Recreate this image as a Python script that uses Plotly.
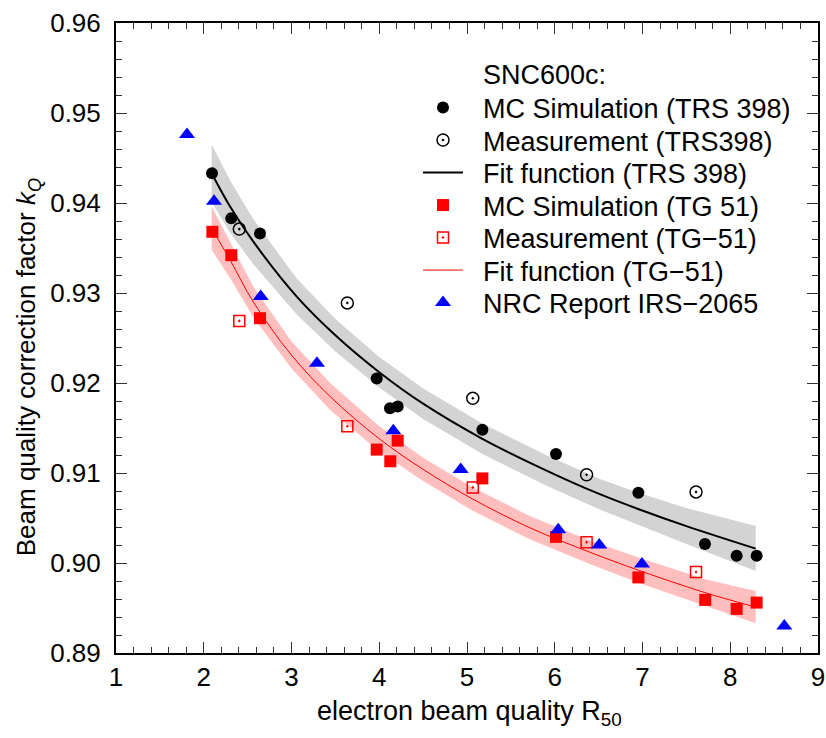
import plotly.graph_objects as go

# ---------------- data ----------------
mc_trs_x = [2.094, 2.314, 2.641, 3.971, 4.122, 4.21, 5.175, 6.014, 6.953, 7.712, 8.073, 8.301]
mc_trs_y = [0.9433, 0.9383, 0.9366, 0.9205, 0.9172, 0.9174, 0.9148, 0.9121, 0.9078, 0.9021, 0.9008, 0.9008]

meas_trs_x = [2.405, 3.636, 5.066, 6.363, 7.610]
meas_trs_y = [0.9371, 0.9289, 0.9183, 0.9098, 0.9079]

mc_tg_x = [2.098, 2.314, 2.641, 3.971, 4.126, 4.21, 5.175, 6.014, 6.953, 7.715, 8.073, 8.301]
mc_tg_y = [0.9368, 0.9342, 0.9272, 0.9126, 0.9113, 0.9136, 0.9094, 0.9029, 0.8984, 0.8959, 0.8949, 0.8956]

meas_tg_x = [2.405, 3.636, 5.066, 6.363, 7.610]
meas_tg_y = [0.9269, 0.9152, 0.9084, 0.9023, 0.8990]

nrc_x = [1.809, 2.117, 2.649, 3.29, 4.16, 4.928, 6.04, 6.507, 6.994, 8.616]
nrc_y = [0.9476, 0.9402, 0.9296, 0.9222, 0.9147, 0.9104, 0.9037, 0.9020, 0.8999, 0.8930]

fit_trs_x = [2.09, 2.3, 2.565, 3.06, 3.5, 4.0, 4.5, 5.175, 5.9, 6.5, 6.95, 7.5, 8.29]
fit_trs_y = [0.9433, 0.9396, 0.9357, 0.9296, 0.9253, 0.9212, 0.9177, 0.9138, 0.9103, 0.9077, 0.9060, 0.9041, 0.9016]
band_trs_hi = [0.9465, 0.9425, 0.9382, 0.9316, 0.9271, 0.9229, 0.9194, 0.9155, 0.9120, 0.9094, 0.9078, 0.9061, 0.9041]
band_trs_lo = [0.9401, 0.9367, 0.9332, 0.9276, 0.9235, 0.9195, 0.9160, 0.9121, 0.9086, 0.9060, 0.9042, 0.9021, 0.8991]

fit_tg_x = [2.09, 2.31, 2.565, 3.0, 3.44, 4.0, 4.5, 5.066, 5.72, 6.4, 6.953, 7.715, 8.29]
fit_tg_y = [0.9372, 0.9335, 0.9290, 0.9231, 0.9185, 0.9138, 0.9104, 0.9071, 0.9039, 0.9012, 0.8992, 0.8967, 0.8951]
band_tg_hi = [0.9396, 0.9355, 0.9307, 0.9246, 0.9200, 0.9152, 0.9117, 0.9084, 0.9052, 0.9025, 0.9006, 0.8982, 0.8969]
band_tg_lo = [0.9348, 0.9315, 0.9273, 0.9216, 0.9170, 0.9124, 0.9091, 0.9058, 0.9026, 0.8999, 0.8978, 0.8952, 0.8933]

x_ticks = [1, 2, 3, 4, 5, 6, 7, 8, 9]
y_ticks = [0.89, 0.90, 0.91, 0.92, 0.93, 0.94, 0.95, 0.96]

legend_names = ["SNC600c:", "MC Simulation (TRS 398)", "Measurement (TRS398)",
                "Fit function (TRS 398)", "MC Simulation (TG 51)", "Measurement (TG\u221251)",
                "Fit function (TG\u221251)", "NRC Report IRS\u22122065"]

FONT = "Liberation Sans, Arial, Helvetica, sans-serif"
W, H = 826, 738
ML, MR, MT, MB = 116, 8, 23, 85
PLOT_H = H - MT - MB
PAD = "\u00a0\u00a0"

fig = go.Figure()

# confidence bands
fig.add_trace(go.Scatter(
    x=fit_trs_x + fit_trs_x[::-1], y=band_trs_hi + band_trs_lo[::-1],
    fill="toself", fillcolor="#d3d3d3", line=dict(width=0), mode="lines",
    showlegend=False, hoverinfo="skip"))
fig.add_trace(go.Scatter(
    x=fit_tg_x + fit_tg_x[::-1], y=band_tg_hi + band_tg_lo[::-1],
    fill="toself", fillcolor="#ffbfbf", line=dict(width=0), mode="lines",
    showlegend=False, hoverinfo="skip"))

# legend heading as a blank entry
fig.add_trace(go.Scatter(x=[None], y=[None], mode="markers",
                         marker=dict(color="rgba(0,0,0,0)", size=1),
                         name=PAD + legend_names[0], legend="legend"))

# fit lines
fig.add_trace(go.Scatter(x=fit_trs_x, y=fit_trs_y, mode="lines",
                         line=dict(color="black", width=2, shape="spline"),
                         name=PAD + legend_names[3], legend="legend4"))
fig.add_trace(go.Scatter(x=fit_tg_x, y=fit_tg_y, mode="lines",
                         line=dict(color="red", width=1, shape="spline"),
                         name=PAD + legend_names[6], legend="legend7"))

# markers
fig.add_trace(go.Scatter(x=mc_trs_x, y=mc_trs_y, mode="markers",
                         marker=dict(symbol="circle", color="black", size=12),
                         name=PAD + legend_names[1], legend="legend2"))
fig.add_trace(go.Scatter(x=meas_trs_x, y=meas_trs_y, mode="markers",
                         marker=dict(symbol="circle-open-dot", color="black", size=12,
                                     line=dict(width=1.5, color="black")),
                         name=PAD + legend_names[2], legend="legend3"))
fig.add_trace(go.Scatter(x=mc_tg_x, y=mc_tg_y, mode="markers",
                         marker=dict(symbol="square", color="red", size=12),
                         name=PAD + legend_names[4], legend="legend5"))
fig.add_trace(go.Scatter(x=meas_tg_x, y=meas_tg_y, mode="markers",
                         marker=dict(symbol="square-open-dot", color="red", size=11,
                                     line=dict(width=1.5, color="red")),
                         name=PAD + legend_names[5], legend="legend6"))
fig.add_trace(go.Scatter(x=nrc_x, y=nrc_y, mode="markers",
                         marker=dict(symbol="triangle-up", color="blue", size=14),
                         name=PAD + legend_names[7], legend="legend8"))

axis_common = dict(
    showline=True, linecolor="black", linewidth=2, mirror="allticks",
    ticks="inside", ticklen=11, tickwidth=1, tickcolor="#333333",
    showgrid=False, zeroline=False, automargin=False,
    tickfont=dict(family=FONT, size=26, color="black"),
)

fig.update_xaxes(range=[1, 9], tickvals=x_ticks, ticktext=[str(v) for v in x_ticks],
                 minor=dict(ticks="inside", ticklen=6, dtick=0.2, tickcolor="#333333", tickwidth=1),
                 ticklabelstandoff=0, **axis_common)
fig.update_yaxes(range=[0.89, 0.96], tickvals=y_ticks, ticktext=[f"{v:.2f}" for v in y_ticks],
                 minor=dict(ticks="inside", ticklen=6, dtick=0.002, tickcolor="#333333", tickwidth=1),
                 ticklabelstandoff=8, **axis_common)

fig.add_annotation(text="electron beam quality R<sub>50</sub>", xref="paper", yref="paper",
                   x=0.504, y=-0.095, xanchor="center", yanchor="middle", showarrow=False,
                   font=dict(family=FONT, size=27, color="black"))
fig.add_annotation(text="Beam quality correction factor <i>k</i><sub><i>Q</i></sub>",
                   xref="paper", yref="paper", textangle=-90,
                   x=-0.125, y=0.454, xanchor="center", yanchor="middle", showarrow=False,
                   font=dict(family=FONT, size=26, color="black"))

# one legend per entry so the row spacing matches the reference
legend_rows_px = [74, 108, 140.5, 173, 205.5, 238, 270.5, 303]
legend_left_px = 418
layout_legends = {}
for i, ypx in enumerate(legend_rows_px):
    key = "legend" if i == 0 else f"legend{i + 1}"
    layout_legends[key] = dict(
        x=(legend_left_px - ML) / (W - ML - MR), y=(H - MB - ypx) / PLOT_H,
        xanchor="left", yanchor="middle", bgcolor="rgba(0,0,0,0)",
        font=dict(family=FONT, size=27, color="black"), itemwidth=40,
    )

fig.update_layout(
    width=W, height=H,
    margin=dict(l=ML, r=MR, t=MT, b=MB),
    paper_bgcolor="white", plot_bgcolor="white",
    font=dict(family=FONT, size=26, color="black"),
    showlegend=True,
    **layout_legends,
)

fig.write_html("out.html")
